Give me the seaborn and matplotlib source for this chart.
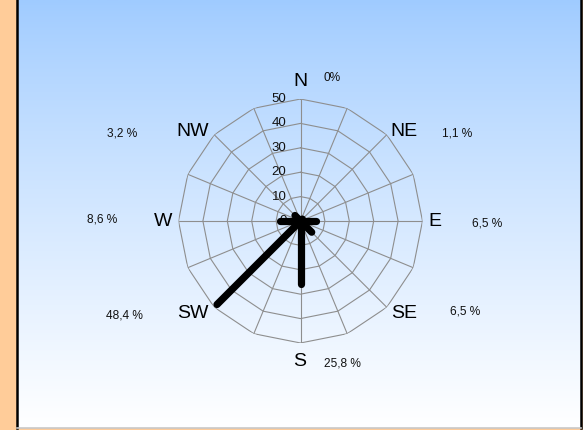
import matplotlib.pyplot as plt
import seaborn as sns
import numpy as np
import pandas as pd

# Wind direction shares (%)
directions = ['N', 'NE', 'E', 'SE', 'S', 'SW', 'W', 'NW']
angles_deg = [0, 45, 90, 135, 180, 225, 270, 315]
shares = [0.0, 1.1, 6.5, 6.5, 25.8, 48.4, 8.6, 3.2]
share_labels = ['0%', '1,1 %', '6,5 %', '6,5 %', '25,8 %', '48,4 %', '8,6 %', '3,2 %']
ring_values = [10, 20, 30, 40, 50]
n_spokes = 16

W, H = 583, 430
DPI = 100

sns.set_style('white')
plt.rcParams['font.family'] = ['Liberation Sans', 'DejaVu Sans']

fig = plt.figure(figsize=(W / DPI, H / DPI), dpi=DPI)
fig.patch.set_facecolor('#FFCC99')

# background panel with vertical blue -> white gradient
bg = fig.add_axes([17 / W, 2 / H, (581 - 17) / W, (H - 2) / H])
top = np.array([0x9F, 0xCB, 0xFF]) / 255
bot = np.array([1.0, 1.0, 1.0])
t = np.linspace(0, 1, 256)[:, None] ** 0.85
grad = top[None, :] * (1 - t) + bot[None, :] * t
bg.imshow(grad[:, None, :], aspect='auto', extent=[0, 1, 0, 1])
bg.set_xticks([])
bg.set_yticks([])
bg.spines['top'].set_visible(False)
bg.spines['left'].set_color('black')
bg.spines['left'].set_linewidth(1.8)
bg.spines['right'].set_color('black')
bg.spines['right'].set_linewidth(1.8)
bg.spines['bottom'].set_color('#C8C8C8')
bg.spines['bottom'].set_linewidth(1.2)

# polar wind rose; 50 units = 122 px
cx, cy, R = 300.5, 221, 122
ax = fig.add_axes([(cx - R) / W, (H - cy - R) / H, 2 * R / W, 2 * R / H],
                  projection='polar')
ax.set_theta_zero_location('N')
ax.set_theta_direction(-1)
ax.set_ylim(0, 50)
ax.set_facecolor('none')

grid_col = '#8E8E8E'
spoke_theta = np.deg2rad(np.arange(n_spokes + 1) * 360 / n_spokes)
for r in ring_values:
    ax.plot(spoke_theta, np.full_like(spoke_theta, r), color=grid_col, lw=0.8, zorder=1)
for th in spoke_theta[:-1]:
    ax.plot([th, th], [0, 50], color=grid_col, lw=0.8, zorder=1)

# radial labels left of the N spoke
for r in [0] + ring_values:
    ax.annotate(str(r), xy=(0, r), xytext=(-14, 0), textcoords='offset pixels',
                ha='right', va='center', fontsize=9.5, color='#111111', zorder=2)

# wind arrows
rows = []
for d, a, v in zip(directions, angles_deg, shares):
    rows.append({'dir': d, 'theta': np.deg2rad(a), 'r': 0.0})
    rows.append({'dir': d, 'theta': np.deg2rad(a), 'r': v})
df = pd.DataFrame(rows)
sns.lineplot(data=df, x='theta', y='r', units='dir', estimator=None, sort=False,
             color='black', linewidth=5.2, solid_capstyle='round', legend=False,
             ax=ax, zorder=5)
ax.axis('off')

# direction labels and percentages, offsets in pixels from the rose centre
dir_offsets = {'N': (-0.5, 139), 'NE': (103.5, 89), 'E': (134.5, -1),
               'SE': (103.5, -92), 'S': (-0.5, -141), 'SW': (-108, -92),
               'W': (-137.5, -1), 'NW': (-108, 90)}
pct_offsets = {'N': (31.5, 143), 'NE': (156.5, 88), 'E': (186.5, -3),
               'SE': (164.5, -91), 'S': (41.5, -142), 'SW': (-176, -94),
               'W': (-198, 1), 'NW': (-178, 88)}
for d, lab in zip(directions, share_labels):
    ax.annotate(d, xy=(0, 0), xytext=dir_offsets[d], textcoords='offset pixels',
                ha='center', va='center', fontsize=14, color='black',
                annotation_clip=False)
    ax.annotate(lab, xy=(0, 0), xytext=pct_offsets[d], textcoords='offset pixels',
                ha='center', va='center', fontsize=8.6, color='#111111',
                annotation_clip=False)

fig.savefig('out.png', dpi=DPI, facecolor=fig.get_facecolor())
plt.close(fig)
